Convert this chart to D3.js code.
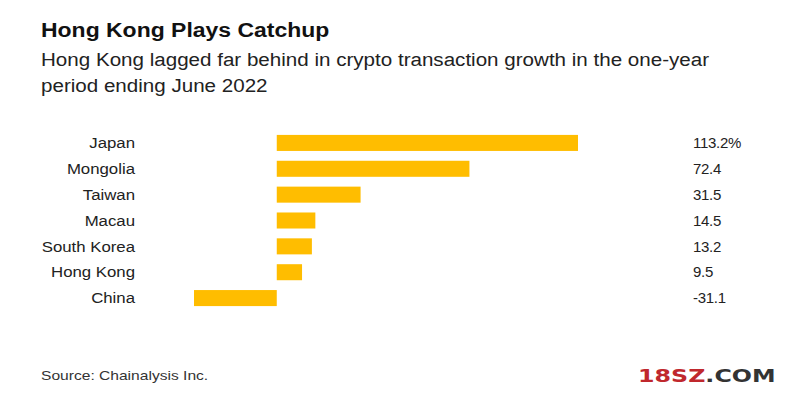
<html>
<head>
<style>
  body { margin: 0; background: #fff; }
  svg { font-family: "Liberation Sans", Arial, sans-serif; }
</style>
</head>
<body>
<svg id="chart" width="800" height="397"></svg>
<script src="https://cdn.jsdelivr.net/npm/d3@7"></script>
<script>
var countries = ['Japan', 'Mongolia', 'Taiwan', 'Macau', 'South Korea', 'Hong Kong', 'China'];
var growth = [113.2, 72.4, 31.5, 14.5, 13.2, 9.5, -31.1];
var valueLabels = ['113.2%', '72.4', '31.5', '14.5', '13.2', '9.5', '-31.1'];

var svg = d3.select('#chart');

svg.append('rect').attr('width', 800).attr('height', 397).attr('fill', '#fff');

// the source picture is a little stretched sideways, so the text is too
function label(px, py, sx) {
  return svg.append('text')
    .attr('transform', 'translate(' + px + ',' + py + ') scale(' + sx + ',1)');
}

label(41, 37, 1.16)
  .attr('font-size', 19.8).attr('font-weight', 'bold').attr('fill', '#111')
  .text('Hong Kong Plays Catchup');
label(41, 66, 1.17)
  .attr('font-size', 17.6).attr('fill', '#222')
  .text('Hong Kong lagged far behind in crypto transaction growth in the one-year');
label(41, 92, 1.17)
  .attr('font-size', 17.6).attr('fill', '#222')
  .text('period ending June 2022');

var x = d3.scaleLinear().domain([-31.1, 113.2]).range([194, 578]);
var y = d3.scaleBand().domain(countries).range([130, 311]).paddingInner(0.38).paddingOuter(0.19);

var rows = svg.selectAll('g.row').data(countries).enter().append('g').attr('class', 'row');

rows.append('rect')
  .attr('x', function(d, i) { return Math.min(x(0), x(growth[i])); })
  .attr('y', function(d) { return y(d); })
  .attr('width', function(d, i) { return Math.abs(x(growth[i]) - x(0)); })
  .attr('height', y.bandwidth())
  .attr('fill', '#FFBD00');

rows.append('text')
  .attr('transform', function(d) {
    return 'translate(135,' + (y(d) + y.bandwidth() / 2) + ') scale(1.12,1)';
  })
  .attr('dy', '0.35em')
  .attr('text-anchor', 'end')
  .attr('font-size', 15).attr('fill', '#222')
  .text(function(d) { return d; });

rows.append('text')
  .attr('x', 693)
  .attr('y', function(d) { return y(d) + y.bandwidth() / 2; })
  .attr('dy', '0.35em')
  .attr('font-size', 15).attr('fill', '#222')
  .attr('letter-spacing', -0.3)
  .text(function(d, i) { return valueLabels[i]; });

label(41, 380, 1.2)
  .attr('font-size', 13).attr('fill', '#333')
  .text('Source: Chainalysis Inc.');

var wm = label(638, 382, 1.32)
  .attr('font-family', '"DejaVu Sans", sans-serif')
  .attr('font-size', 18).attr('font-weight', 'bold');
wm.append('tspan').attr('fill', '#c0282d').text('18SZ');
wm.append('tspan').attr('fill', '#333').text('.COM');
</script>
</body>
</html>
